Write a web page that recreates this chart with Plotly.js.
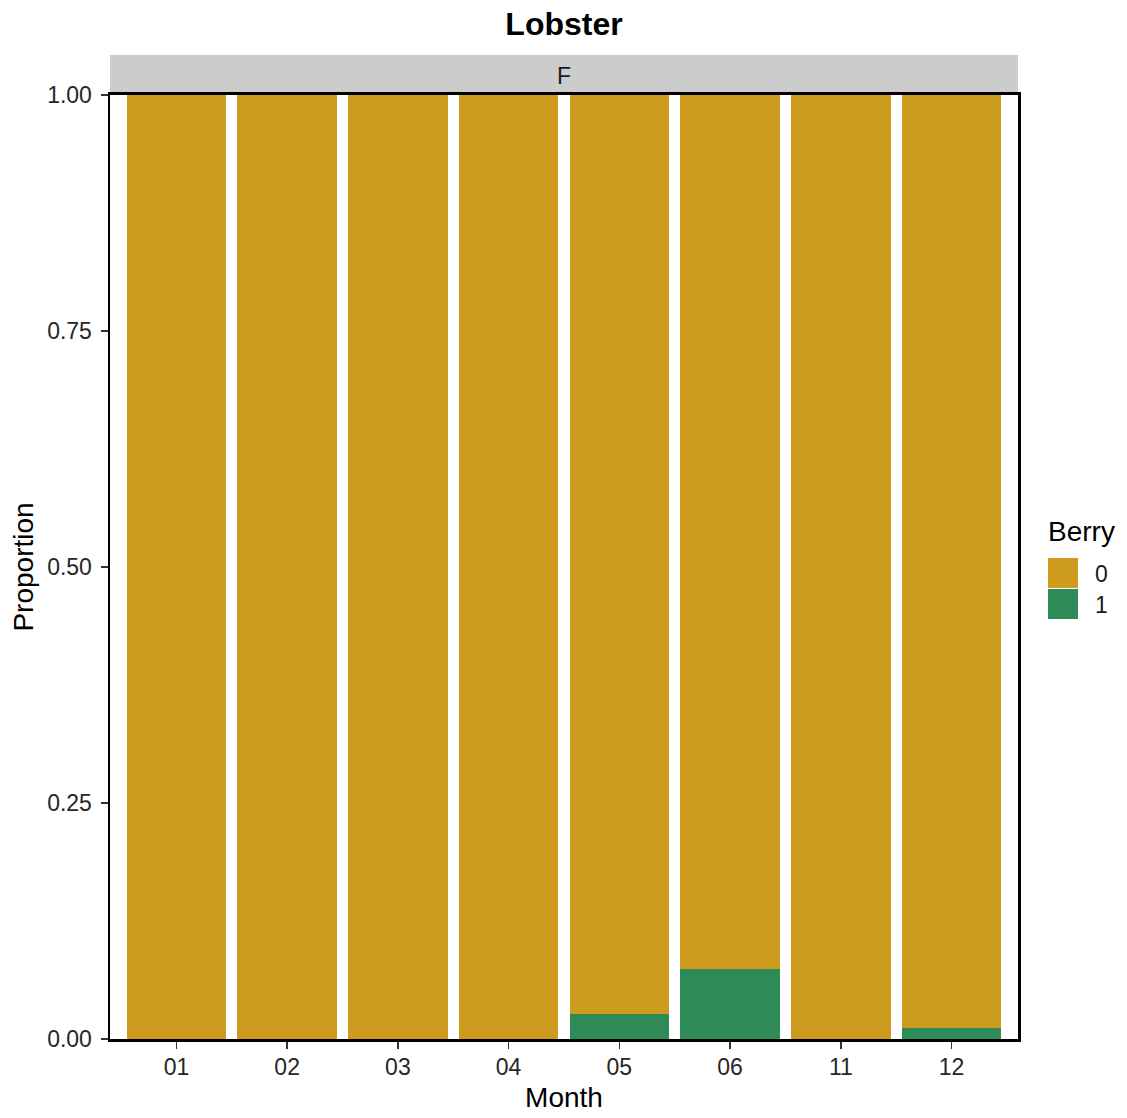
<!DOCTYPE html>
<html>
<head>
<meta charset="utf-8">
<script src="https://cdn.plot.ly/plotly-3.0.1.min.js"></script>
<style>html,body{margin:0;padding:0;background:#fff;}</style>
</head>
<body>
<div id="chart" style="width:1127px;height:1118px;"></div>
<script>
const months = ['01','02','03','04','05','06','11','12'];
const berry1 = [0, 0, 0, 0, 0.026, 0.074, 0, 0.012];
const berry0 = [1, 1, 1, 1, 0.974, 0.926, 1, 0.988];
const berryLevels = ['0','1'];
const berryColors = ['#CD9B1D','#2E8B57'];
const yTicks = [0, 0.25, 0.5, 0.75, 1];
const yTickLabels = ['0.00','0.25','0.50','0.75','1.00'];
const facetLabel = 'F';

const font = 'Liberation Sans, Arial, sans-serif';

const traces = [
  {type:'bar', x: months, y: berry1, name: berryLevels[1], marker:{color: berryColors[1], line:{width:0}}, width:0.9, showlegend:false},
  {type:'bar', x: months, y: berry0, name: berryLevels[0], marker:{color: berryColors[0], line:{width:0}}, width:0.9, showlegend:false}
];

const plotH = 1118 - 95 - 79;
const plotW = 1018 - 110;
const px = v => (v - 110) / plotW;
const py = v => (1039 - v) / plotH;
const shapes = [
  {type:'rect', xref:'paper', yref:'paper', x0:0, x1:1, y0:1, y1:1 + 40/plotH, fillcolor:'#CCCCCC', line:{width:0}, layer:'below'}
];
const annotations = [
  {text: facetLabel, xref:'paper', yref:'paper', x:0.5, y:py(76), showarrow:false, font:{family:font, size:23, color:'#1A1A1A'}, xanchor:'center', yanchor:'middle'},
  {text: 'Berry', xref:'paper', yref:'paper', x: px(1046), y: py(531), xanchor:'left', yanchor:'middle', showarrow:false, font:{family:font, size:28, color:'#000'}}
];
berryLevels.forEach((lv, i) => {
  const top = 558 + i*31;
  shapes.push({type:'rect', xref:'paper', yref:'paper', x0:px(1048), x1:px(1078), y0:py(top+30), y1:py(top), fillcolor: berryColors[i], line:{width:0}});
  annotations.push({text: lv, xref:'paper', yref:'paper', x:px(1093), y:py(top+16), xanchor:'left', yanchor:'middle', showarrow:false, font:{family:font, size:23, color:'#1A1A1A'}});
});

const layout = {
  width:1127, height:1118,
  margin:{l:110, r:109, t:95, b:79, pad:0},
  paper_bgcolor:'#fff', plot_bgcolor:'#fff',
  barmode:'stack', bargap:0.1,
  title:{text:'<b>Lobster</b>', x:564/1127, xanchor:'center', y:1-24/1118, yanchor:'middle', font:{family:font, size:32, color:'#000'}},
  xaxis:{type:'category', categoryorder:'array', categoryarray: months, range:[-0.6, 7.6],
    showline:true, linecolor:'#000', linewidth:3, mirror:true, showgrid:false, zeroline:false,
    ticks:'outside', ticklen:7, tickcolor:'#333', tickwidth:1.5, ticklabelstandoff:-2,
    tickfont:{family:font, size:23, color:'#262626'},
    title:{text:'Month', font:{family:font, size:28, color:'#000'}, standoff:9}},
  yaxis:{range:[0,1], tickvals:yTicks, ticktext:yTickLabels,
    showline:true, linecolor:'#000', linewidth:2.5, mirror:true, showgrid:false, zeroline:false,
    ticks:'outside', ticklen:7, tickcolor:'#333', tickwidth:1.5, ticklabelstandoff:4,
    tickfont:{family:font, size:23, color:'#262626'},
    title:{text:'Proportion', font:{family:font, size:28, color:'#000'}, standoff:6}},
  shapes: shapes,
  annotations: annotations,
  showlegend:false
};

Plotly.newPlot('chart', traces, layout, {displayModeBar:false, staticPlot:true});
</script>
</body>
</html>
